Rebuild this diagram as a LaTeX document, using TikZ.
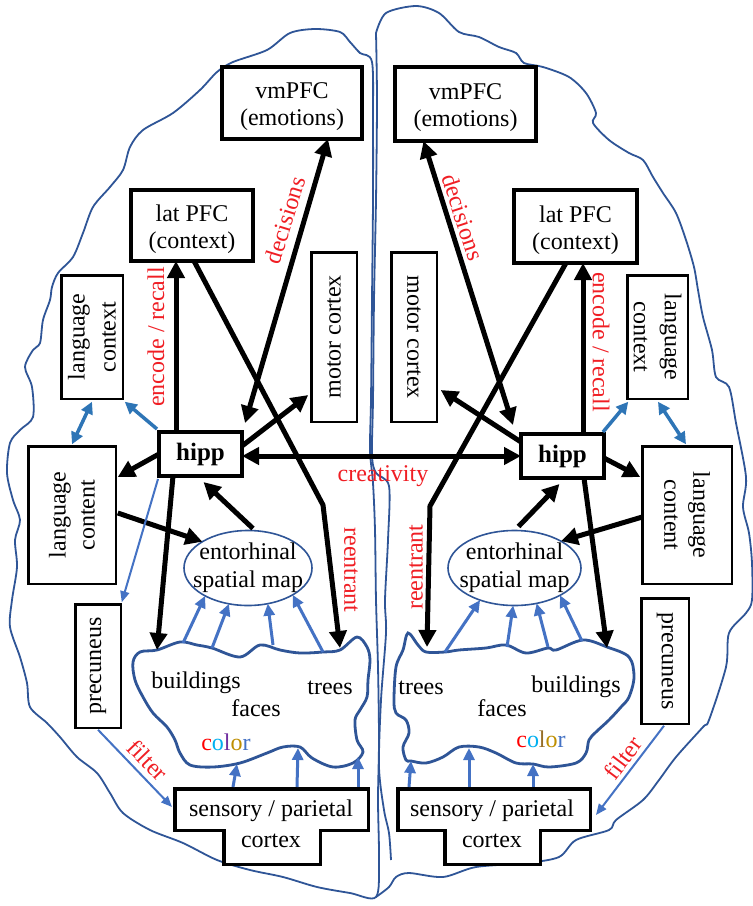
\documentclass[tikz,border=0pt]{standalone}
\usepackage{fontspec}
\setmainfont{Liberation Serif}
\usetikzlibrary{arrows.meta,calc,shapes.geometric}
\definecolor{outl}{RGB}{47,85,151}
\definecolor{barrow}{RGB}{68,114,196}
\definecolor{larrow}{RGB}{46,117,182}
\definecolor{lblred}{RGB}{240,30,36}
\definecolor{ccyan}{RGB}{0,176,240}
\definecolor{cpurp}{RGB}{112,48,160}
\definecolor{cgold}{RGB}{191,143,0}
\definecolor{cbrown}{RGB}{150,110,40}
\newcommand\myup{\rule{0pt}{24pt}}
\begin{document}
\begin{tikzpicture}[x=1pt,y=-1pt,
 every node/.style={font=\fontsize{24}{29}\selectfont, inner sep=0pt, outer sep=0pt},
 bigbox/.style={draw=black, line width=4pt, fill=white, align=center, font=\fontsize{24}{27}\selectfont},
 smallbox/.style={draw=black, line width=2.5pt, fill=white},
 boxtext/.style={align=center},
 redlbl/.style={text=lblred},
 blkarrow/.style={draw=black, line width=5pt, -{Triangle[length=17pt,width=17pt]}},
 blkboth/.style={draw=black, line width=5pt, {Triangle[length=17pt,width=17pt]}-{Triangle[length=17pt,width=17pt]}},
 bluearrow/.style={draw=barrow, line width=3pt, -{Triangle[length=12pt,width=11pt]}},
 langarrow/.style={draw=larrow, line width=3.5pt, -{Triangle[length=12pt,width=12pt]}},
 langboth/.style={draw=larrow, line width=3.5pt, {Triangle[length=12pt,width=12pt]}-{Triangle[length=12pt,width=12pt]}},
 thinarrow/.style={draw=barrow, line width=2pt, -{Triangle[length=11pt,width=9pt]}},
 brain/.style={draw=outl, line width=1.8pt},
 cloud/.style={draw=outl, line width=2.8pt, fill=white},
 tshape/.style={draw=black, line width=3.5pt, fill=white},
 ento/.style={ellipse, draw=outl, line width=1.6pt, fill=white}
]
\fill[white] (0,0) rectangle (753,906);
\useasboundingbox (0,0) rectangle (753,906);

% ---------- brain outlines ----------
\draw[brain] plot[smooth cycle, tension=0.5] coordinates {(372,62) (360,53) (350,42) (340,32) (315,29) (290,33) (267,50) (233,62) (217,72) (200,90) (173,113) (143,130) (130,147) (123,170) (110,187) (93,207) (83,233) (73,257) (58,273) (52,287) (50,300) (43,320) (40,343) (33,350) (25,367) (32,387) (33,417) (20,430) (10,443) (7,473) (13,500) (20,520) (15,540) (17,567) (12,600) (10,627) (20,657) (27,683) (30,707) (47,723) (60,737) (77,757) (97,773) (110,793) (123,813) (150,830) (183,843) (217,860) (250,870) (283,877) (317,887) (350,893) (376,897) (379,860) (378,800) (379,740) (378,667) (376,600) (375,530) (373,483) (370,450) (371,400) (372,300) (373,200) (373,120)};
\draw[brain] plot[smooth, tension=0.5] coordinates {(376,33) (386,13) (416,6) (439,13) (459,32) (479,37) (499,47) (516,53) (524,63) (543,67) (569,77) (586,93) (596,113) (593,123) (609,140) (629,153) (643,160) (653,177) (663,193) (676,213) (686,240) (694,267) (698,290) (703,317) (712,350) (716,377) (729,387) (736,423) (746,477) (743,507) (749,533) (752,563) (752,600) (746,613) (729,633) (726,667) (709,720) (703,727) (676,757) (659,780) (643,800) (616,820) (609,830) (576,840) (559,857) (526,863) (476,867) (443,877) (409,873) (396,877) (389,887) (376,897)};
\draw[brain] plot[smooth, tension=0.5] coordinates {(376,33) (377,100) (376,200) (374,300) (373,400) (372,455) (376,473) (389,486) (388,540) (385,600) (386,633) (381,700) (379,767) (384,810) (389,833) (391,860)};

% ---------- clouds ----------
\draw[cloud] plot[smooth cycle, tension=0.55] coordinates {(133,662) (140,652) (157,650) (180,642) (197,645) (212,648) (240,657) (260,645) (280,650) (300,653) (323,652) (340,650) (357,637) (367,647) (370,660) (368,680) (367,697) (360,710) (355,720) (357,740) (363,752) (353,763) (333,767) (312,758) (300,747) (283,747) (267,753) (240,763) (213,767) (190,765) (180,753) (175,740) (167,727) (153,713) (143,697) (135,680)};
\draw[cloud] plot[smooth cycle, tension=0.55] coordinates {(408,633) (418,645) (426,652) (445,652) (459,650) (486,648) (506,645) (526,653) (548,648) (556,650) (583,640) (607,647) (629,657) (634,677) (629,697) (621,707) (609,720) (596,732) (589,740) (586,753) (576,763) (549,767) (533,764) (516,763) (496,753) (479,747) (459,747) (443,757) (426,763) (411,761) (406,760) (403,747) (409,733) (406,720) (396,713) (394,700) (396,667) (403,650)};

\coordinate (cLa) at (157,650);
\coordinate (cLb) at (340,648);
\coordinate (cL1) at (183,643);
\coordinate (cL2) at (212,648);
\coordinate (cL3) at (273,645);
\coordinate (cL4) at (323,652);
\coordinate (cLs1) at (237,764);
\coordinate (cLs2) at (298,748);
\coordinate (cLs3) at (358,757);
\coordinate (cRa) at (607,648);
\coordinate (cRb) at (427,647);
\coordinate (cR1) at (445,652);
\coordinate (cR2) at (507,647);
\coordinate (cR3) at (548,647);
\coordinate (cR4) at (582,641);
\coordinate (cRs1) at (411,761);
\coordinate (cRs2) at (469,748);
\coordinate (cRs3) at (533,764);
\coordinate (rbL) at (323,505);
\coordinate (rbR) at (430,506);

% ---------- entorhinal ----------
\node[ento, minimum width=128pt, minimum height=75pt] (entL) at (248,568) {};
\node[boxtext, font=\fontsize{24}{28}\selectfont] (entLt) at (entL) {entorhinal\\spatial map};
\node[ento, minimum width=133pt, minimum height=75pt] (entR) at (514.5,568) {};
\node[boxtext, font=\fontsize{24}{28}\selectfont] (entRt) at (entR) {entorhinal\\spatial map};

% ---------- sensory / parietal ----------
\draw[tshape] (174.75,788.75) -- (368.25,788.75) -- (368.25,830.25) -- (320.25,830.25) -- (320.25,864.25) -- (223.75,864.25) -- (223.75,830.25) -- (174.75,830.25) -- cycle;
\node[boxtext, font=\fontsize{24}{31}\selectfont] (senL) at (271,824) {sensory / parietal\\cortex};
\draw[tshape] (397.75,788.75) -- (590.25,788.75) -- (590.25,830.25) -- (540.25,830.25) -- (540.25,864.25) -- (444.75,864.25) -- (444.75,830.25) -- (397.75,830.25) -- cycle;
\node[boxtext, font=\fontsize{24}{31}\selectfont] (senR) at (492,824) {sensory / parietal\\cortex};

% ---------- boxes ----------
\node[bigbox, minimum width=140pt, minimum height=72pt] (vmL) at (292,103) {\myup vmPFC\\(emotions)};
\node[bigbox, minimum width=141pt, minimum height=74pt] (vmR) at (465.5,104) {\myup vmPFC\\(emotions)};
\node[bigbox, minimum width=122pt, minimum height=71pt] (latL) at (192,225.5) {\myup lat PFC\\(context)};
\node[bigbox, minimum width=123pt, minimum height=73pt] (latR) at (575.5,226.5) {\myup lat PFC\\(context)};
\node[bigbox, minimum width=83pt, minimum height=44pt, font=\fontsize{25}{29}\selectfont\bfseries] (hipL) at (200.5,454) {hipp};
\node[bigbox, minimum width=83pt, minimum height=44pt, font=\fontsize{25}{29}\selectfont\bfseries] (hipR) at (562.5,456) {hipp};

\node[smallbox, minimum width=61.5pt, minimum height=123.5pt] (lcxL) at (92,337) {};
\node[boxtext, rotate=90, font=\fontsize{24}{31}\selectfont] (lcxLt) at (lcxL) {language\\context};
\node[smallbox, minimum width=60.5pt, minimum height=123.5pt] (lcxR) at (657.5,337) {};
\node[boxtext, rotate=-90, font=\fontsize{24}{31}\selectfont] (lcxRt) at (lcxR) {language\\context};
\node[smallbox, minimum width=45.5pt, minimum height=169.5pt] (motL) at (334,337) {};
\node[boxtext, rotate=90] (motLt) at (motL) {motor cortex};
\node[smallbox, minimum width=45.5pt, minimum height=169.5pt] (motR) at (414,337) {};
\node[boxtext, rotate=-90] (motRt) at (motR) {motor cortex};
\node[smallbox, minimum width=87.5pt, minimum height=137.5pt] (lcoL) at (72,515) {};
\node[boxtext, rotate=90] (lcoLt) at (lcoL) {language\\content};
\node[smallbox, minimum width=89.5pt, minimum height=137.5pt] (lcoR) at (687,515) {};
\node[boxtext, rotate=-90] (lcoRt) at (lcoR) {language\\content};
\node[smallbox, minimum width=45.5pt, minimum height=123.5pt] (preL) at (98,666) {};
\node[boxtext, rotate=90] (preLt) at (preL) {precuneus};
\node[smallbox, minimum width=47.5pt, minimum height=125.5pt] (preR) at (665,661) {};
\node[boxtext, rotate=-90] (preRt) at (preR) {precuneus};

% ---------- black arrows, left ----------
\draw[blkarrow] ($(hipL.north)+(-24.5,0)$) -- ($(latL.south)+(-16,0)$);
\draw[blkboth] ($(hipL.north east)+(3,-9)$) -- ($(vmL.south)+(36,0)$);
\draw[blkarrow] ($(latL.south)+(2,0)$) -- (rbL) -- (cLb);
\draw[blkarrow] ($(hipL.east)+(0,-8)$) -- ($(motL.west)+(-3,58)$);
\draw[blkboth] ($(hipL.east)+(0,2)$) -- (hipR.west);
\draw[blkarrow] (hipL.west) -- ($(lcoL.east)+(2,-38)$);
\draw[blkarrow] ($(lcoL.east)+(2,-2)$) -- (entL.150);
\draw[blkarrow] ($(entL.north)+(5,-2)$) -- ($(hipL.south)+(3,6)$);
\draw[blkarrow] ($(hipL.south)+(-27.5,0)$) -- (cLa);

% ---------- black arrows, right ----------
\draw[blkarrow] ($(hipR.north)+(20.5,0)$) -- ($(latR.south)+(7.5,0)$);
\draw[blkboth] ($(vmR.south)+(-42,0)$) -- ($(hipR.north west)+(-8,-9)$);
\draw[blkarrow] ($(latR.south)+(-9.5,0)$) -- (rbR) -- (cRb);
\draw[blkarrow] ($(hipR.west)+(0,-14)$) -- ($(motR.east)+(4,53)$);
\draw[blkarrow] ($(hipR.east)+(0,2)$) -- ($(lcoR.west)+(-2,-38)$);
\draw[blkarrow] ($(lcoR.west)+(0,2)$) -- (entR.30);
\draw[blkarrow] ($(entR.north)+(4,-4)$) -- ($(hipR.south)+(-3,6)$);
\draw[blkarrow] ($(hipR.south)+(21.5,0)$) -- (cRa);

% ---------- blue arrows ----------
\draw[langarrow] ($(hipL.north west)+(-2,-3)$) -- ($(lcxL.south east)+(2,3)$);
\draw[langboth] ($(lcxL.south)+(0,3)$) -- ($(lcoL.north)+(0,-2)$);
\draw[thinarrow] ($(hipL.south west)+(-1,3)$) -- ($(preL.north east)+(1,-2)$);
\draw[thinarrow] ($(preL.south)+(0,2)$) -- ($(senL)+(-99,-17)$);
\draw[bluearrow] (cL1) -- (entL.213);
\draw[bluearrow] (cL2) -- (entL.242);
\draw[bluearrow] (cL3) -- (entL.299);
\draw[bluearrow] (cL4) -- (entL.329);
\draw[bluearrow] ($(senL)+(-38,-37)$) -- (cLs1);
\draw[bluearrow] ($(senL)+(26,-37)$) -- (cLs2);
\draw[bluearrow] ($(senL)+(87,-37)$) -- (cLs3);

\draw[langarrow] ($(hipR.north east)+(-1,-2)$) -- ($(lcxR.south west)+(1,3)$);
\draw[langboth] ($(lcxR.south)+(0.5,3)$) -- ($(lcoR.north)+(-1,-2)$);
\draw[thinarrow] ($(preR.south)+(-1,2)$) -- ($(senR)+(104,-9)$);
\draw[bluearrow] (cR1) -- (entR.223);
\draw[bluearrow] (cR2) -- (entR.268);
\draw[bluearrow] (cR3) -- (entR.302);
\draw[bluearrow] (cR4) -- (entR.329);
\draw[bluearrow] ($(senR)+(-83,-37)$) -- (cRs1);
\draw[bluearrow] ($(senR)+(-23,-37)$) -- (cRs2);
\draw[bluearrow] ($(senR)+(41,-37)$) -- (cRs3);

% ---------- red labels ----------
\node[redlbl, rotate=90] (encL) at (156,337) {encode / recall};
\node[redlbl, rotate=-90] (encR) at (601,342) {encode / recall};
\node[redlbl, rotate=73] (decL) at (285,220) {decisions};
\node[redlbl, rotate=-72] (decR) at (463,217) {decisions};
\node[redlbl, rotate=-90] (reL) at (351,570) {reentrant};
\node[redlbl, rotate=90] (reR) at (416,567) {reentrant};
\node[redlbl] (cre) at (383,476) {creativity};
\node[redlbl, rotate=-46] (filL) at (148,760) {filter};
\node[redlbl, rotate=53] (filR) at (623,758) {filter};

% ---------- cloud texts ----------
\node[anchor=base] (bldL) at (196,688) {buildings};
\node[anchor=base] (trL) at (330,694) {trees};
\node[anchor=base] (fcL) at (256,716) {faces};
\node[anchor=base] (colL) at (226,750) {\textcolor{red}{c}\textcolor{ccyan}{o}\textcolor{cpurp}{l}\textcolor{cgold}{o}\textcolor{barrow}{r}};
\node[anchor=base] (trR) at (421,694) {trees};
\node[anchor=base] (fcR) at (502,716) {faces};
\node[anchor=base] (bldR) at (576,692) {buildings};
\node[anchor=base] (colR) at (541,747) {\textcolor{red}{c}\textcolor{ccyan}{o}\textcolor{cbrown}{l}\textcolor{cgold}{o}\textcolor{barrow}{r}};
\end{tikzpicture}
\end{document}
